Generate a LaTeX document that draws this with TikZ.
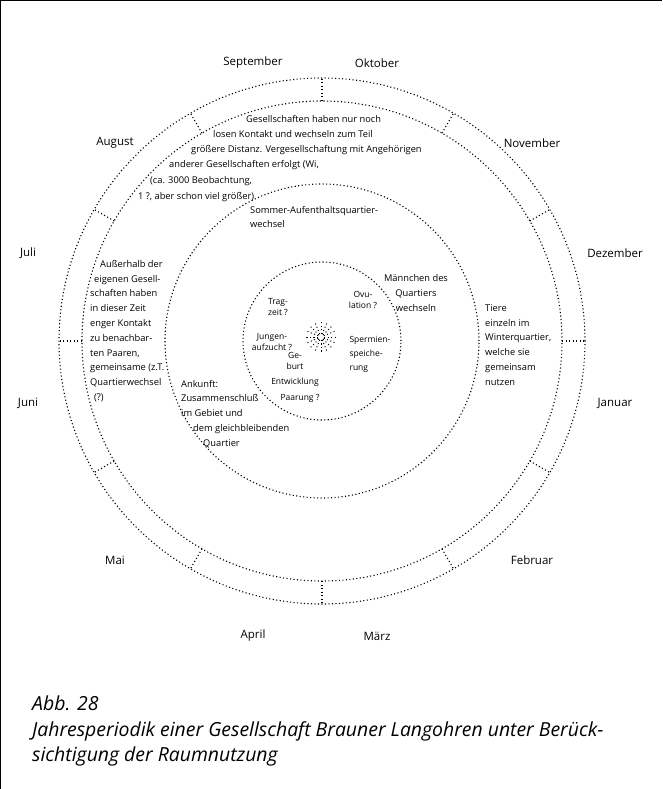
\documentclass[tikz,border=0pt]{standalone}
\usepackage{fontspec}
\setmainfont{Open Sans}
\begin{document}
\begin{tikzpicture}[x=1pt, y=1pt,
    dots/.style={line width=1.1pt, dash pattern=on 1.1pt off 2.4pt},
    month/.style={font=\fontsize{11.5}{12}\selectfont, inner sep=0pt},
    note/.style={font=\fontsize{9.3}{14.8}\selectfont, inner sep=0pt, align=left},
    inner/.style={font=\fontsize{8.5}{11.5}\selectfont, inner sep=0pt, align=center}]
\useasboundingbox (-322,-448) rectangle (340,341);
\draw[line width=1pt] (-321.5,-448) -- (-321.5,340.5) -- (340,340.5);

% rings
\coordinate (C) at (0,0);
\draw[dots] (C) circle (263);
\draw[dots] (C) circle (240);
\draw[dots] (C) circle (157);
\draw[dots] (C) circle (79);

% month ticks
\draw[dots] (90:240) -- (90:263);
\draw[dots] (60:240) -- (60:263);
\draw[dots] (30:240) -- (30:263);
\draw[dots] (0:240) -- (0:263);
\draw[dots] (-30:240) -- (-30:263);
\draw[dots] (-60:240) -- (-60:263);
\draw[dots] (-90:240) -- (-90:263);
\draw[dots] (-120:240) -- (-120:263);
\draw[dots] (-150:240) -- (-150:263);
\draw[dots] (180:240) -- (180:263);
\draw[dots] (150:240) -- (150:263);
\draw[dots] (120:240) -- (120:263);

% months
\node[month] (sep) at (-69,278) {September};
\node[month] (okt) at (55,278) {Oktober};
\node[month] (nov) at (210,198) {November};
\node[month] (dez) at (293,88) {Dezember};
\node[month] (jan) at (293,-62) {Januar};
\node[month] (feb) at (210,-219) {Februar};
\node[month] (mar) at (55,-295) {März};
\node[month] (apr) at (-69,-295) {April};
\node[month] (mai) at (-207,-219) {Mai};
\node[month] (jun) at (-294,-62) {Juni};
\node[month] (jul) at (-294,88) {Juli};
\node[month] (aug) at (-207,198) {August};

% outer band, top
\node[note, anchor=west] (g1) at (-76,222) {Gesellschaften haben nur noch};
\node[note, anchor=west] (g2) at (-109,207) {losen Kontakt und wechseln zum Teil};
\node[note, anchor=west] (g3) at (-131,191) {größere Distanz. Vergesellschaftung mit Angehörigen};
\node[note, anchor=west] (g4) at (-153,176) {anderer Gesellschaften erfolgt (Wi,};
\node[note, anchor=west] (g5) at (-172,160) {(ca. 3000 Beobachtung,};
\node[note, anchor=west] (g6) at (-184,144) {1 ?, aber schon viel größer)};

% outer band, left and right
\node[note, anchor=west] (aussen) at (-232,10) {\hspace*{10pt}Außerhalb der\\\hspace*{4pt}eigenen Gesell-\\schaften haben\\in dieser Zeit\\enger Kontakt\\zu benachbar-\\ten Paaren,\\gemeinsame (z.T.\\Quartierwechsel\\\hspace*{4pt}(?)};
\node[note, anchor=west] (tiere) at (163,-4) {Tiere\\einzeln im\\Winterquartier,\\welche sie\\gemeinsam\\nutzen};

% middle band
\node[note, anchor=west] (somq) at (-72,124) {Sommer-Aufenthaltsquartier-\\wechsel};
\node[note, align=center] (maen) at (94,48) {Männchen des\\Quartiers\\wechseln};
\node[note, anchor=west] (ank) at (-141,-73) {Ankunft:\\Zusammenschluß\\im Gebiet und\\\hspace*{12pt}dem gleichbleibenden\\\hspace*{22pt}Quartier};

% inner circle
\node[inner] (trag) at (-44,34) {Trag-\\zeit ?};
\node[inner] (ovu) at (41,41) {Ovu-\\lation ?};
\node[inner] (jung) at (-50,-1) {Jungen-\\aufzucht ?};
\node[inner, align=left, font=\fontsize{8.5}{14}\selectfont] (sperm) at (48,-13) {Spermien-\\speiche-\\rung};
\node[inner] (geb) at (-27,-20) {Ge-\\burt};
\node[inner] (entw) at (-27,-41) {Entwicklung};
\node[inner] (paar) at (-22,-57) {Paarung ?};

% star
\coordinate (star) at (-1,4);
\foreach \a in {0,22.5,...,337.5}
  \draw[dots, line width=0.9pt] (star) ++(\a:3) -- ++(\a:12);

% caption
\node[anchor=west, inner sep=0pt, align=left, font=\itshape\fontsize{19.4}{25.5}\selectfont] (cap) at (-290,-390)
  {Abb. 28\\Jahresperiodik einer Gesellschaft Brauner Langohren unter Berück-\\sichtigung der Raumnutzung};
\end{tikzpicture}
\end{document}
